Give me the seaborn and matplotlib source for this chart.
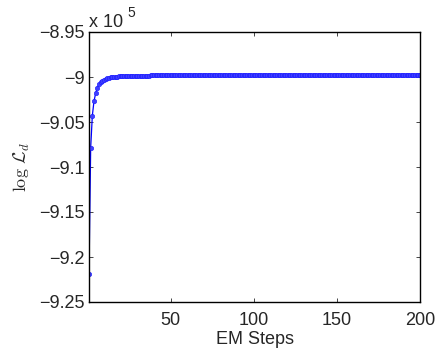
import matplotlib
matplotlib.use("Agg")
import matplotlib.pyplot as plt
import seaborn as sns
import pandas as pd

# log-likelihood (in units of 1e5) at each EM step 1..200
loglik = [
    -9.2190, -9.0790, -9.0430, -9.0270, -9.0180, -9.0120, -9.0080, -9.0055, -9.0040, -9.0028,
    -9.0020, -9.0013, -9.0008, -9.0004, -9.0001, -8.9999, -8.9997, -8.9995, -8.9994, -8.9993,
    -8.9992, -8.9991, -8.9990, -8.9989, -8.9988, -8.9988, -8.9987, -8.9987, -8.9986, -8.9986,
    -8.9985, -8.9985, -8.9985, -8.9984, -8.9984, -8.9984, -8.9984, -8.9983, -8.9983, -8.9983,
    -8.9983, -8.9983, -8.9982, -8.9982, -8.9982, -8.9982, -8.9982, -8.9982, -8.9982, -8.9981,
    -8.9981, -8.9981, -8.9981, -8.9981, -8.9981, -8.9981, -8.9981, -8.9981, -8.9981, -8.9980,
    -8.9980, -8.9980, -8.9980, -8.9980, -8.9980, -8.9980, -8.9980, -8.9980, -8.9980, -8.9980,
    -8.9980, -8.9980, -8.9980, -8.9980, -8.9980, -8.9980, -8.9980, -8.9980, -8.9980, -8.9980,
    -8.9980, -8.9980, -8.9980, -8.9980, -8.9980, -8.9979, -8.9979, -8.9979, -8.9979, -8.9979,
    -8.9979, -8.9979, -8.9979, -8.9979, -8.9979, -8.9979, -8.9979, -8.9979, -8.9979, -8.9979,
    -8.9979, -8.9979, -8.9979, -8.9979, -8.9979, -8.9979, -8.9979, -8.9979, -8.9979, -8.9979,
    -8.9979, -8.9979, -8.9979, -8.9979, -8.9979, -8.9979, -8.9979, -8.9979, -8.9979, -8.9979,
    -8.9979, -8.9979, -8.9979, -8.9979, -8.9979, -8.9979, -8.9979, -8.9979, -8.9979, -8.9979,
    -8.9979, -8.9979, -8.9979, -8.9979, -8.9979, -8.9979, -8.9979, -8.9979, -8.9979, -8.9979,
    -8.9979, -8.9979, -8.9979, -8.9979, -8.9979, -8.9979, -8.9979, -8.9979, -8.9979, -8.9979,
    -8.9979, -8.9979, -8.9979, -8.9979, -8.9979, -8.9979, -8.9979, -8.9979, -8.9979, -8.9979,
    -8.9979, -8.9979, -8.9979, -8.9979, -8.9979, -8.9979, -8.9979, -8.9979, -8.9979, -8.9979,
    -8.9979, -8.9979, -8.9979, -8.9979, -8.9979, -8.9979, -8.9979, -8.9979, -8.9979, -8.9979,
    -8.9979, -8.9979, -8.9979, -8.9979, -8.9979, -8.9979, -8.9979, -8.9979, -8.9979, -8.9979,
    -8.9979, -8.9979, -8.9979, -8.9979, -8.9979, -8.9979, -8.9979, -8.9979, -8.9979, -8.9979,
]
steps = list(range(1, len(loglik) + 1))

x_ticks = [50, 100, 150, 200]
y_ticks = [-8.95, -9.0, -9.05, -9.1, -9.15, -9.2, -9.25]
y_tick_labels = ["\u22128.95", "\u22129", "\u22129.05", "\u22129.1", "\u22129.15", "\u22129.2", "\u22129.25"]

sns.set_style("ticks")
plt.rcParams["font.family"] = ["Liberation Sans", "DejaVu Sans"]
plt.rcParams["mathtext.fontset"] = "cm"

df = pd.DataFrame({"step": steps, "loglik": loglik})

fig = plt.figure(figsize=(4.4, 3.52), dpi=100)
ax = fig.add_axes([89 / 440, 50 / 352, 331 / 440, 270 / 352])

sns.lineplot(data=df, x="step", y="loglik", ax=ax, color=(0, 0, 1),
             linewidth=0.9, marker="o", markersize=3.2, markeredgewidth=0.4,
             markeredgecolor=(0.1, 0.1, 1), markerfacecolor=(0.25, 0.25, 1))

ax.set_xlim(1, 200)
ax.set_ylim(-9.25, -8.95)
ax.set_xticks(x_ticks)
ax.set_xticklabels([str(t) for t in x_ticks])
ax.set_yticks(y_ticks)
ax.set_yticklabels(y_tick_labels)

ax.tick_params(axis="x", pad=7)
ax.tick_params(axis="y", pad=3)
ax.tick_params(direction="in", length=3, width=0.6, labelsize=13,
               top=True, right=True)
for s in ax.spines.values():
    s.set_linewidth(1.0)
    s.set_color("black")
    s.set_visible(True)

ax.set_xlabel("EM Steps", fontsize=13, labelpad=2)
ax.set_ylabel(r"$\log\,\mathcal{L}_d$", fontsize=13, labelpad=5)

ax.text(0.0, 1.005, "x 10", transform=ax.transAxes, fontsize=13,
        ha="left", va="bottom")
ax.text(0.115, 1.045, "5", transform=ax.transAxes, fontsize=10,
        ha="left", va="bottom")

fig.savefig("out.png", dpi=100)
